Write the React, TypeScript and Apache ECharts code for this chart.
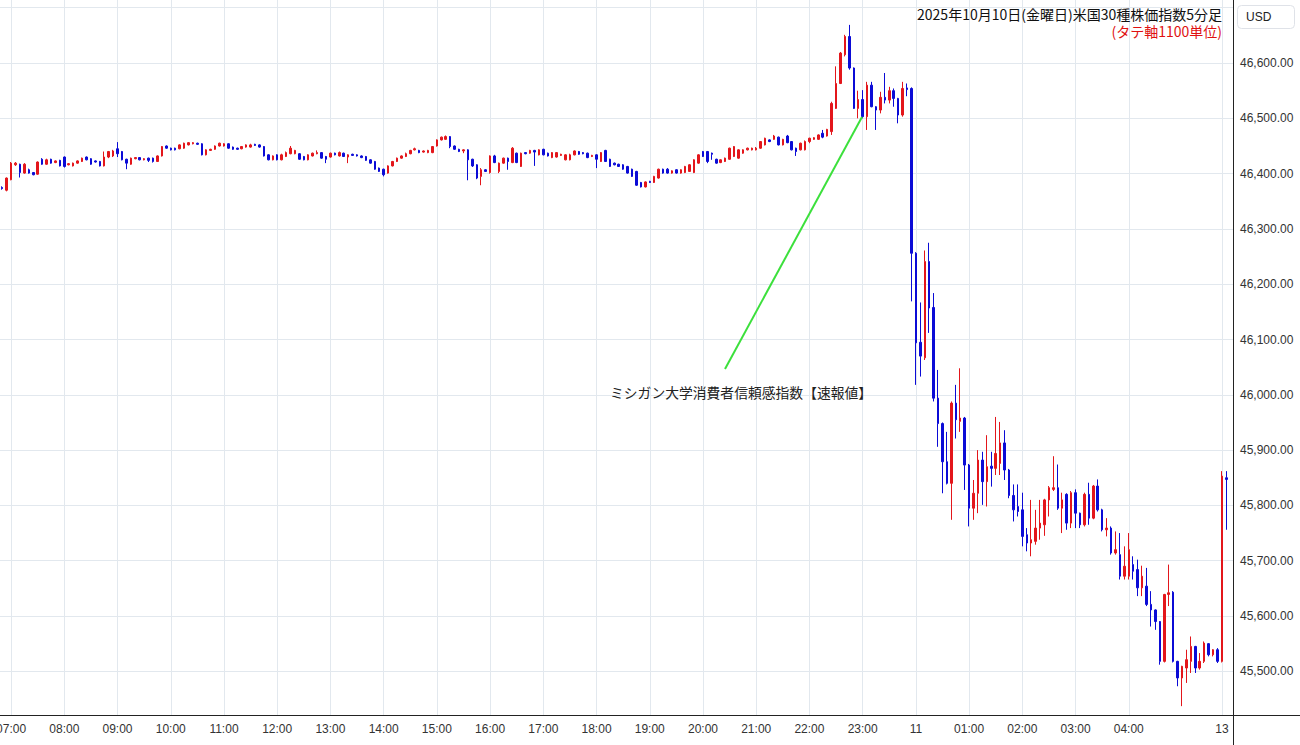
import React, { useEffect, useRef } from "react";
import * as echarts from "echarts";

// ---- data -------------------------------------------------------------
// 5-minute bars: 2025-10-10 06:50 JST … 2025-10-11 05:40, then 13th 07:00, 07:05
const sessionStart = { day: "10", minutes: 6 * 60 + 50 };
const barsFirstSession = 275;
const mondayBars = ["13 07:00", "13 07:05", "13 07:10"];

const categories: string[] = (() => {
  const out: string[] = [];
  for (let i = 0; i < barsFirstSession; i++) {
    const m = sessionStart.minutes + 5 * i;
    const day = m >= 1440 ? "11" : sessionStart.day;
    const mm = m % 1440;
    const hh = String(Math.floor(mm / 60)).padStart(2, "0");
    const mi = String(mm % 60).padStart(2, "0");
    out.push(`${day} ${hh}:${mi}`);
  }
  return out.concat(mondayBars);
})();

// x-axis tick labels: [category, text]
const xTicks: [string, string][] = [
  ["10 07:00", "07:00"], ["10 08:00", "08:00"], ["10 09:00", "09:00"], ["10 10:00", "10:00"],
  ["10 11:00", "11:00"], ["10 12:00", "12:00"], ["10 13:00", "13:00"], ["10 14:00", "14:00"],
  ["10 15:00", "15:00"], ["10 16:00", "16:00"], ["10 17:00", "17:00"], ["10 18:00", "18:00"],
  ["10 19:00", "19:00"], ["10 20:00", "20:00"], ["10 21:00", "21:00"], ["10 22:00", "22:00"],
  ["10 23:00", "23:00"], ["11 00:00", "11"], ["11 01:00", "01:00"], ["11 02:00", "02:00"],
  ["11 03:00", "03:00"], ["11 04:00", "04:00"], ["13 07:00", "13"],
];

// y range (visible), ticks every 100, labels 45,500 … 46,600
const yMin = 45421;
const yMax = 46714;
const yStep = 100;
const yLabelMin = 45500;
const yLabelMax = 46600;

// [open, close, low, high]
const ohlcMorning: number[][] = [
  [46375, 46373, 46371, 46377], [46370, 46392, 46368, 46393], [46389, 46419, 46388, 46421], [46416, 46419, 46414, 46421],
  [46417, 46402, 46393, 46418], [46401, 46417, 46400, 46419], [46407, 46401, 46400, 46409], [46402, 46398, 46397, 46403],
  [46399, 46421, 46398, 46422], [46426, 46417, 46416, 46428], [46417, 46425, 46416, 46427], [46426, 46419, 46418, 46427],
  [46420, 46423, 46419, 46424], [46424, 46414, 46413, 46425], [46430, 46413, 46411, 46431], [46416, 46418, 46415, 46419],
  [46414, 46419, 46413, 46420], [46419, 46423, 46418, 46424], [46422, 46428, 46421, 46429], [46430, 46425, 46424, 46431],
  [46427, 46417, 46416, 46428], [46423, 46421, 46420, 46424], [46422, 46414, 46413, 46423], [46414, 46430, 46413, 46440],
  [46430, 46440, 46428, 46441], [46432, 46441, 46430, 46443], [46445, 46436, 46430, 46457], [46440, 46425, 46424, 46441],
  [46426, 46419, 46408, 46427], [46417, 46428, 46416, 46429], [46427, 46429, 46426, 46430], [46429, 46425, 46424, 46430],
  [46425, 46427, 46424, 46428], [46428, 46424, 46421, 46429], [46428, 46422, 46420, 46429], [46422, 46432, 46421, 46433],
  [46432, 46449, 46431, 46450], [46450, 46446, 46445, 46451], [46446, 46443, 46442, 46447], [46446, 46443, 46442, 46447],
  [46445, 46452, 46444, 46453], [46446, 46455, 46445, 46456], [46452, 46456, 46451, 46457], [46454, 46456, 46453, 46457],
  [46455, 46453, 46452, 46456], [46454, 46434, 46433, 46455], [46434, 46443, 46433, 46444], [46442, 46444, 46441, 46445],
  [46444, 46450, 46443, 46451], [46450, 46455, 46449, 46456], [46450, 46454, 46449, 46455], [46454, 46446, 46445, 46455],
  [46448, 46444, 46443, 46449], [46446, 46444, 46443, 46447], [46445, 46449, 46444, 46450], [46448, 46452, 46447, 46453],
  [46448, 46452, 46447, 46454], [46453, 46451, 46450, 46454], [46452, 46448, 46447, 46453], [46449, 46432, 46431, 46450],
  [46434, 46425, 46424, 46435], [46425, 46432, 46424, 46433], [46434, 46425, 46424, 46435], [46425, 46434, 46424, 46436],
  [46431, 46438, 46430, 46440], [46436, 46446, 46435, 46450], [46436, 46442, 46435, 46443], [46436, 46426, 46425, 46437],
  [46431, 46425, 46424, 46432], [46425, 46434, 46424, 46435], [46432, 46437, 46431, 46438], [46436, 46438, 46435, 46442],
  [46438, 46428, 46427, 46439], [46431, 46426, 46419, 46432], [46430, 46437, 46429, 46438], [46437, 46434, 46433, 46438],
  [46432, 46438, 46431, 46440], [46437, 46431, 46430, 46438], [46430, 46434, 46419, 46435], [46435, 46433, 46432, 46436],
  [46434, 46432, 46431, 46435], [46432, 46429, 46428, 46433], [46431, 46424, 46423, 46432], [46425, 46419, 46418, 46426],
  [46422, 46408, 46407, 46423], [46410, 46404, 46403, 46411], [46408, 46398, 46395, 46409], [46401, 46414, 46400, 46415],
  [46414, 46422, 46413, 46423], [46422, 46428, 46421, 46429], [46428, 46432, 46427, 46433], [46431, 46436, 46430, 46438],
  [46436, 46442, 46435, 46443], [46443, 46445, 46442, 46447], [46442, 46438, 46437, 46443], [46439, 46441, 46438, 46442],
  [46438, 46442, 46437, 46443],
];

const ohlcAfternoon: number[][] = [
  [46438, 46449, 46437, 46450], [46450, 46461, 46449, 46462], [46461, 46466, 46460, 46467], [46462, 46467, 46461, 46469],
  [46467, 46449, 46446, 46468], [46450, 46444, 46443, 46451], [46444, 46440, 46439, 46445], [46441, 46443, 46437, 46444],
  [46443, 46425, 46388, 46444], [46426, 46414, 46412, 46427], [46416, 46392, 46390, 46417], [46395, 46407, 46379, 46410],
  [46407, 46404, 46403, 46408], [46402, 46432, 46400, 46433], [46432, 46420, 46419, 46434], [46404, 46419, 46401, 46420],
  [46419, 46428, 46418, 46429], [46428, 46422, 46407, 46429], [46420, 46446, 46419, 46448], [46437, 46420, 46419, 46438],
  [46413, 46437, 46412, 46438], [46438, 46436, 46435, 46439], [46437, 46442, 46436, 46443], [46442, 46439, 46414, 46443],
  [46434, 46443, 46433, 46444], [46444, 46434, 46433, 46445], [46437, 46432, 46431, 46438], [46429, 46438, 46428, 46439],
  [46430, 46438, 46429, 46439], [46433, 46435, 46432, 46436], [46425, 46434, 46424, 46435], [46425, 46434, 46424, 46436],
  [46434, 46441, 46433, 46442], [46440, 46435, 46434, 46441], [46438, 46436, 46435, 46439], [46437, 46429, 46428, 46438],
  [46431, 46433, 46430, 46434], [46434, 46426, 46410, 46435], [46422, 46438, 46421, 46439], [46442, 46422, 46421, 46443],
  [46426, 46413, 46412, 46427], [46419, 46416, 46415, 46420], [46417, 46413, 46412, 46418], [46416, 46408, 46407, 46417],
  [46413, 46401, 46400, 46414], [46408, 46395, 46394, 46409], [46404, 46379, 46378, 46405], [46384, 46376, 46375, 46385],
  [46376, 46385, 46375, 46386], [46386, 46384, 46383, 46387], [46384, 46395, 46383, 46396], [46392, 46408, 46391, 46409],
  [46408, 46401, 46400, 46409], [46408, 46401, 46400, 46410], [46401, 46405, 46400, 46406], [46407, 46401, 46400, 46408],
  [46401, 46407, 46400, 46408], [46402, 46413, 46401, 46414], [46404, 46416, 46403, 46417], [46402, 46425, 46401, 46426],
  [46419, 46434, 46418, 46435], [46440, 46431, 46430, 46441], [46440, 46422, 46419, 46441], [46437, 46435, 46425, 46438],
  [46426, 46419, 46418, 46427], [46420, 46425, 46419, 46426], [46422, 46428, 46421, 46429], [46426, 46446, 46425, 46447],
  [46431, 46449, 46430, 46450], [46428, 46443, 46427, 46444], [46437, 46443, 46436, 46444], [46443, 46446, 46442, 46447],
  [46443, 46446, 46442, 46447], [46443, 46446, 46442, 46448], [46446, 46458, 46445, 46459], [46452, 46464, 46451, 46465],
  [46461, 46458, 46457, 46462], [46462, 46468, 46461, 46470], [46466, 46452, 46451, 46467], [46452, 46462, 46451, 46463],
  [46468, 46456, 46455, 46470], [46458, 46443, 46442, 46459], [46446, 46440, 46432, 46447], [46443, 46455, 46442, 46456],
  [46443, 46458, 46442, 46460],
];

const ohlcUsOpen: number[][] = [
  [46458, 46464, 46455, 46465], [46462, 46465, 46461, 46466], [46462, 46470, 46461, 46471], [46473, 46466, 46464, 46479],
  [46468, 46480, 46467, 46481], [46476, 46527, 46470, 46530], [46518, 46563, 46517, 46594], [46563, 46618, 46562, 46620],
  [46615, 46648, 46612, 46651], [46648, 46591, 46588, 46669], [46591, 46518, 46517, 46592], [46518, 46534, 46500, 46550],
  [46534, 46503, 46500, 46551], [46503, 46560, 46479, 46566], [46560, 46521, 46520, 46566], [46521, 46515, 46479, 46522],
  [46515, 46538, 46509, 46548], [46538, 46533, 46527, 46582], [46533, 46550, 46527, 46557], [46550, 46536, 46521, 46554],
  [46536, 46506, 46491, 46537], [46506, 46554, 46503, 46566], [46555, 46552, 46540, 46563],
];

const ohlcSelloff: number[][] = [
  [46554, 46256, 46169, 46556], [46256, 46094, 46018, 46258], [46095, 46070, 46033, 46167], [46067, 46241, 46063, 46261],
  [46241, 46157, 46112, 46275], [46158, 45994, 45988, 46184], [45994, 45948, 45906, 46045], [45948, 45879, 45822, 45950],
  [45879, 45840, 45838, 45933], [45840, 45985, 45774, 45988], [45985, 45955, 45921, 46018], [45952, 45958, 45933, 46048],
  [45958, 45873, 45828, 45960], [45873, 45795, 45762, 45875], [45795, 45822, 45774, 45846], [45822, 45882, 45786, 45900],
  [45882, 45843, 45801, 45897], [45843, 45870, 45798, 45927], [45871, 45867, 45834, 45897], [45867, 45894, 45855, 45960],
  [45876, 45913, 45855, 45951], [45913, 45864, 45846, 45936], [45864, 45818, 45813, 45866],
];

const ohlcLate: number[][] = [
  [45818, 45792, 45771, 45838], [45798, 45789, 45780, 45838], [45792, 45744, 45726, 45823], [45747, 45732, 45717, 45759],
  [45732, 45738, 45708, 45810], [45735, 45759, 45729, 45792], [45759, 45768, 45738, 45810], [45765, 45810, 45745, 45812],
  [45810, 45832, 45780, 45835], [45829, 45832, 45826, 45889], [45832, 45795, 45792, 45874], [45795, 45810, 45750, 45823],
  [45820, 45768, 45756, 45822], [45768, 45823, 45759, 45826], [45823, 45786, 45759, 45829], [45786, 45765, 45759, 45787],
  [45765, 45820, 45762, 45823], [45820, 45777, 45765, 45841], [45777, 45835, 45775, 45837], [45835, 45792, 45789, 45847],
  [45792, 45756, 45753, 45794], [45756, 45759, 45744, 45777], [45759, 45714, 45711, 45762], [45714, 45720, 45711, 45753],
  [45711, 45672, 45666, 45750], [45672, 45690, 45666, 45726], [45672, 45720, 45666, 45750], [45693, 45681, 45666, 45708],
  [45684, 45651, 45636, 45702], [45651, 45672, 45636, 45691], [45654, 45621, 45618, 45687], [45621, 45611, 45581, 45645],
  [45611, 45590, 45575, 45612], [45590, 45518, 45512, 45591], [45518, 45639, 45516, 45640], [45639, 45642, 45618, 45693],
  [45643, 45518, 45516, 45645], [45518, 45488, 45473, 45519], [45488, 45509, 45437, 45510], [45506, 45521, 45479, 45539],
  [45518, 45545, 45497, 45563], [45545, 45506, 45497, 45546], [45506, 45518, 45503, 45533], [45518, 45551, 45515, 45554],
  [45550, 45530, 45527, 45551], [45530, 45539, 45527, 45540], [45539, 45518, 45515, 45542],
];

const ohlcMonday: number[][] = [
  [45518, 45853, 45516, 45862], [45850, 45847, 45756, 45862],
];

const titleLine1 = "2025年10月10日(金曜日)米国30種株価指数5分足";
const titleLine2 = "(タテ軸1100単位)";
const currency = "USD";
const annotation = "ミシガン大学消費者信頼感指数【速報値】";

// ---- styles -----------------------------------------------------------
const UP = "#e3161b";
const DOWN = "#0b0bd6";
const GRID = "#e2e8ee";
const AXIS = "#222";
const LABEL = "#333";

const ohlc = [
  ...ohlcMorning,
  ...ohlcAfternoon,
  ...ohlcUsOpen,
  ...ohlcSelloff,
  ...ohlcLate,
  ...ohlcMonday,
];

const tickMap = new Map<string, string>(xTicks);
const showTick = (_i: number, v: string) => tickMap.has(v);

const fmtY = (v: number) =>
  v < yLabelMin - 1 || v > yLabelMax + 1
    ? ""
    : v.toLocaleString("en-US", { minimumFractionDigits: 2, maximumFractionDigits: 2 });

export default function App() {
  const ref = useRef<HTMLDivElement>(null);
  useEffect(() => {
    if (!ref.current) return;
    const chart = echarts.init(ref.current, null, { renderer: "svg", width: 1300, height: 745 });
    const option: any = {
      animation: false,
      backgroundColor: "#ffffff",
      grid: { left: 0, right: 67, top: 0, bottom: 30, containLabel: false, outerBoundsMode: "none" },
      xAxis: {
        type: "category",
        data: categories,
        boundaryGap: true,
        axisLine: { show: false },
        axisTick: { show: false },
        axisLabel: {
          interval: showTick,
          formatter: (v: string) => tickMap.get(v) ?? "",
          color: LABEL,
          fontSize: 12,
          fontFamily: "Liberation Sans, Arial, sans-serif",
          margin: 8,
          hideOverlap: false,
        },
        splitLine: {
          show: true,
          interval: showTick,
          alignWithLabel: true,
          lineStyle: { color: GRID, width: 1 },
        },
      },
      yAxis: {
        type: "value",
        position: "right",
        min: yMin,
        max: yMax,
        splitNumber: 12,
        minInterval: yStep,
        maxInterval: yStep,
        axisLine: { show: false },
        axisTick: { show: false },
        axisLabel: {
          showMinLabel: false,
          showMaxLabel: false,
          formatter: (v: number) => fmtY(v),
          color: LABEL,
          fontSize: 12,
          fontFamily: "Liberation Sans, Arial, sans-serif",
          margin: 7,
        },
        splitLine: { show: true, showMinLine: false, showMaxLine: false, lineStyle: { color: GRID, width: 1 } },
      },
      series: [
        {
          type: "candlestick",
          data: ohlc,
          barWidth: 2,
          itemStyle: {
            color: UP,
            color0: DOWN,
            borderColor: UP,
            borderColor0: DOWN,
            borderWidth: 1,
          },
        },
      ],
      graphic: [
        { type: "line", shape: { x1: 0, y1: 715.5, x2: 1300, y2: 715.5 }, style: { stroke: AXIS, lineWidth: 1 }, z: 50 },
        { type: "line", shape: { x1: 1233.5, y1: 0, x2: 1233.5, y2: 745 }, style: { stroke: AXIS, lineWidth: 1 }, z: 50 },
        {
          type: "rect",
          shape: { x: 1237.5, y: 5.5, width: 57, height: 23, r: 4 },
          style: { fill: "#ffffff", stroke: "#dfe2e8", lineWidth: 1 },
          z: 50,
        },
        {
          type: "text",
          x: 1246,
          y: 17,
          style: {
            text: currency, fill: "#222", fontSize: 12, fontFamily: "Liberation Sans, Arial, sans-serif",
            textAlign: "left", textVerticalAlign: "middle", align: "left", verticalAlign: "middle",
          },
          z: 51,
        },
        {
          type: "text",
          x: 1222,
          y: 13.5,
          style: {
            text: titleLine1, fill: "#111", fontSize: 14, lineHeight: 14, fontFamily: "Noto Sans CJK JP, sans-serif",
            textAlign: "right", textVerticalAlign: "middle", align: "right", verticalAlign: "middle",
          },
          z: 51,
        },
        {
          type: "text",
          x: 1222,
          y: 31,
          style: {
            text: titleLine2, fill: "#e01010", fontSize: 14, lineHeight: 14, fontFamily: "Noto Sans CJK JP, sans-serif",
            textAlign: "right", textVerticalAlign: "middle", align: "right", verticalAlign: "middle",
          },
          z: 51,
        },
        {
          type: "line",
          shape: { x1: 725, y1: 369, x2: 862, y2: 117 },
          style: { stroke: "#3ce03c", lineWidth: 2 },
          z: 52,
        },
        {
          type: "text",
          x: 610,
          y: 392,
          style: {
            text: annotation, fill: "#222", fontSize: 13.8, fontFamily: "Noto Sans CJK JP, sans-serif",
            textAlign: "left", textVerticalAlign: "middle", align: "left", verticalAlign: "middle",
          },
          z: 52,
        },
      ],
    };
    chart.setOption(option);
    return () => chart.dispose();
  }, []);
  return (
    <div
      ref={ref}
      style={{ position: "fixed", left: 0, top: 0, width: 1300, height: 745, background: "#fff" }}
    />
  );
}
